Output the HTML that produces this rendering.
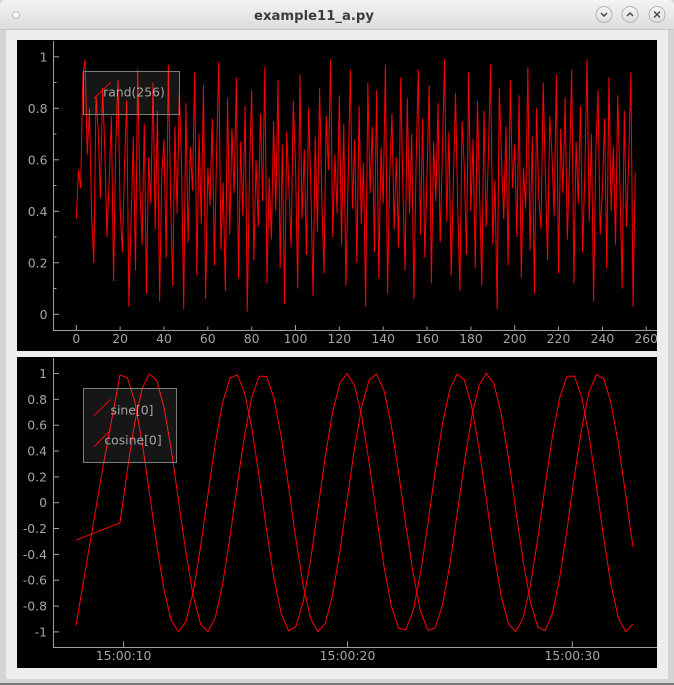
<!DOCTYPE html>
<html><head><meta charset="utf-8"><style>
html,body{margin:0;padding:0;background:#d4d4d4;width:674px;height:685px;overflow:hidden}
svg{display:block}
.t{font-family:"DejaVu Sans","Liberation Sans",sans-serif;font-size:12.4px;fill:#a4a4a4}
</style></head><body>
<svg width="674" height="685" viewBox="0 0 674 685" xmlns="http://www.w3.org/2000/svg">
<defs>
<linearGradient id="tb" x1="0" y1="0" x2="0" y2="1"><stop offset="0" stop-color="#f4f4f4"/><stop offset="1" stop-color="#dcdcdc"/></linearGradient>
<linearGradient id="bt" x1="0" y1="0" x2="0" y2="1"><stop offset="0" stop-color="#f6f6f6"/><stop offset="1" stop-color="#dedede"/></linearGradient>
</defs>
<rect x="0" y="0" width="674" height="685" fill="#d4d4d4"/>
<rect x="0" y="683" width="674" height="2" fill="#767676"/>
<path d="M0,30 V6 Q0,0 6,0 H668 Q674,0 674,6 V30 Z" fill="url(#tb)"/>
<line x1="0" y1="29.5" x2="674" y2="29.5" stroke="#c8c8c8"/>
<rect x="6" y="30" width="662" height="649" fill="#ededed"/>
<circle cx="16" cy="15" r="3.5" fill="#fafafa" stroke="#bdbdbd"/>
<text x="314" y="20" text-anchor="middle" style="font-family:'DejaVu Sans','Liberation Sans',sans-serif;font-weight:bold;font-size:13.2px;fill:#3c3c3c">example11_a.py</text>
<circle cx="604" cy="14.5" r="8" fill="url(#bt)" stroke="#b4b4b4"/>
<circle cx="630" cy="14.5" r="8" fill="url(#bt)" stroke="#b4b4b4"/>
<circle cx="657" cy="14.5" r="8" fill="url(#bt)" stroke="#b4b4b4"/>
<polyline points="601,13 604,16 607,13" fill="none" stroke="#444" stroke-width="1.4"/>
<polyline points="627,16 630,13 633,16" fill="none" stroke="#444" stroke-width="1.4"/>
<path d="M654,11.5 L660,17.5 M660,11.5 L654,17.5" stroke="#444" stroke-width="1.4"/>

<!-- Plot 1 -->
<rect x="17" y="40" width="640" height="311" fill="#000"/>
<g transform="translate(76.3,314.3) scale(2.192,-2.575)">
<polyline fill="none" stroke="#ff0000" stroke-width="1" vector-effect="non-scaling-stroke" points="0,37 1,56 2,49 3,93 4,99 5,62 6,80 7,38 8,20 9,85 10,71 11,45 12,88 13,64 14,30 15,52 16,77 17,13 18,66 19,91 20,41 21,24 22,58 23,83 24,3 25,36 26,69 27,17 28,95 29,50 30,27 31,74 32,8 33,61 34,43 35,90 36,33 37,79 38,5 39,54 40,68 41,22 42,97 43,46 44,11 45,73 46,39 47,86 48,59 49,2 50,82 51,28 52,65 53,48 54,94 55,15 56,70 57,35 58,89 59,6 60,57 61,42 62,76 63,19 64,63 65,98 66,25 67,51 68,9 69,84 70,31 71,72 72,47 73,92 74,14 75,67 76,38 77,81 78,1 79,55 80,87 81,21 82,60 83,34 84,78 85,44 86,96 87,12 88,53 89,29 90,75 91,40 92,91 93,18 94,66 95,4 96,71 97,49 98,26 99,83 100,58 101,10 102,93 103,37 104,64 105,23 106,80 107,50 108,7 109,69 110,32 111,88 112,45 113,16 114,77 115,56 116,99 117,30 118,62 119,39 120,85 121,27 122,74 123,11 124,52 125,95 126,41 127,68 128,20 129,81 130,35 131,59 132,3 133,90 134,47 135,73 136,24 137,87 138,14 139,65 140,43 141,97 142,8 143,55 144,78 145,33 146,61 147,26 148,92 149,48 150,17 151,84 152,39 153,70 154,6 155,58 156,95 157,31 158,76 159,22 160,54 161,89 162,12 163,67 164,44 165,82 166,28 167,63 168,99 169,36 170,71 171,15 172,50 173,86 174,42 175,9 176,75 177,57 178,23 179,94 180,40 181,68 182,18 183,83 184,46 185,11 186,79 187,34 188,62 189,97 190,27 191,52 192,2 193,88 194,60 195,37 196,73 197,19 198,91 199,49 200,66 201,30 202,85 203,14 204,57 205,41 206,96 207,25 208,69 209,8 210,80 211,45 212,33 213,90 214,53 215,21 216,77 217,62 218,38 219,93 220,16 221,72 222,47 223,84 224,29 225,58 226,95 227,12 228,67 229,43 230,81 231,24 232,55 233,99 234,36 235,70 236,5 237,63 238,87 239,31 240,48 241,76 242,18 243,92 244,40 245,65 246,27 247,85 248,51 249,10 250,79 251,34 252,60 253,94 254,3 255,55"/>
</g>
<!-- axes plot 1 -->
<g stroke="#a0a0a0" stroke-width="1" fill="none">
<line x1="53.5" y1="41" x2="53.5" y2="331"/>
<line x1="53" y1="330.5" x2="657" y2="330.5"/>
<line x1="53.5" y1="56.8" x2="59" y2="56.8"/>
<line x1="53.5" y1="108.3" x2="59" y2="108.3"/>
<line x1="53.5" y1="159.8" x2="59" y2="159.8"/>
<line x1="53.5" y1="211.3" x2="59" y2="211.3"/>
<line x1="53.5" y1="262.8" x2="59" y2="262.8"/>
<line x1="53.5" y1="314.3" x2="59" y2="314.3"/>
<line x1="53.5" y1="82.5" x2="56.5" y2="82.5"/>
<line x1="53.5" y1="134" x2="56.5" y2="134"/>
<line x1="53.5" y1="185.5" x2="56.5" y2="185.5"/>
<line x1="53.5" y1="237" x2="56.5" y2="237"/>
<line x1="53.5" y1="288.5" x2="56.5" y2="288.5"/>
<line x1="76.3" y1="330" x2="76.3" y2="325"/>
<line x1="120.1" y1="330" x2="120.1" y2="326.5"/>
<line x1="164" y1="330" x2="164" y2="326.5"/>
<line x1="207.8" y1="330" x2="207.8" y2="326.5"/>
<line x1="251.7" y1="330" x2="251.7" y2="326.5"/>
<line x1="295.5" y1="330" x2="295.5" y2="325"/>
<line x1="339.3" y1="330" x2="339.3" y2="326.5"/>
<line x1="383.2" y1="330" x2="383.2" y2="326.5"/>
<line x1="427" y1="330" x2="427" y2="326.5"/>
<line x1="470.9" y1="330" x2="470.9" y2="326.5"/>
<line x1="514.7" y1="330" x2="514.7" y2="325"/>
<line x1="558.5" y1="330" x2="558.5" y2="326.5"/>
<line x1="602.4" y1="330" x2="602.4" y2="326.5"/>
<line x1="646.2" y1="330" x2="646.2" y2="326.5"/>
</g>
<g class="t" text-anchor="end">
<text x="47.5" y="61.3">1</text>
<text x="47.5" y="112.8">0.8</text>
<text x="47.5" y="164.3">0.6</text>
<text x="47.5" y="215.8">0.4</text>
<text x="47.5" y="267.3">0.2</text>
<text x="47.5" y="318.8">0</text>
</g>
<g class="t" text-anchor="middle">
<text x="76.3" y="343">0</text>
<text x="120.1" y="343">20</text>
<text x="164" y="343">40</text>
<text x="207.8" y="343">60</text>
<text x="251.7" y="343">80</text>
<text x="295.5" y="343">100</text>
<text x="339.3" y="343">120</text>
<text x="383.2" y="343">140</text>
<text x="427" y="343">160</text>
<text x="470.9" y="343">180</text>
<text x="514.7" y="343">200</text>
<text x="558.5" y="343">220</text>
<text x="602.4" y="343">240</text>
<text x="646.2" y="343">260</text>
</g>
<!-- legend 1 -->
<rect x="83.5" y="71.5" width="96" height="43" fill="rgba(255,255,255,0.085)" stroke="#7c7c7c"/>
<line x1="94" y1="98.3" x2="110.7" y2="82.3" stroke="#ff0000" stroke-width="1"/>
<text class="t" x="134" y="96.5" text-anchor="middle">rand(256)</text>

<!-- Plot 2 -->
<rect x="17" y="357" width="640" height="311" fill="#000"/>
<g transform="translate(120,502.7) scale(7.329,-129.2)" fill="none" stroke="#ff0000">
<polyline stroke-width="1" vector-effect="non-scaling-stroke" points="-6.003,-0.95 -2.32,0.28 0,0.988 1,0.968 2,0.787 3,0.474 4,0.083 5,-0.322 6,-0.674 7,-0.913 8,-1 9,-0.92 10,-0.687 11,-0.339 12,0.065 13,0.458 14,0.775 15,0.963 16,0.99 17,0.852 18,0.572 19,0.197 20,-0.211 21,-0.584 22,-0.86 23,-0.992 24,-0.959 25,-0.766 26,-0.445 27,-0.05 28,0.353 29,0.698 30,0.926 31,1 32,0.907 33,0.663 34,0.308 35,-0.098 36,-0.487 37,-0.796 38,-0.971 39,-0.985 40,-0.835 41,-0.545 42,-0.165 43,0.243 44,0.61 45,0.876 46,0.996 47,0.949 48,0.744 49,0.416 50,0.017 51,-0.384 52,-0.721 53,-0.938 54,-0.998 55,-0.893 56,-0.638 57,-0.277 58,0.13 59,0.516 60,0.815 61,0.979 62,0.979 63,0.816 64,0.517 65,0.132 66,-0.275 67,-0.637 68,-0.892 69,-0.998 70,-0.938"/>
<polyline stroke-width="1" vector-effect="non-scaling-stroke" points="-6.003,-0.29 0,-0.156 1,0.251 2,0.617 3,0.88 4,0.997 5,0.947 6,0.739 7,0.408 8,0.009 9,-0.391 10,-0.727 11,-0.941 12,-0.998 13,-0.889 14,-0.631 15,-0.269 16,0.138 17,0.523 18,0.82 19,0.98 20,0.977 21,0.811 22,0.51 23,0.124 24,-0.283 25,-0.643 26,-0.895 27,-0.999 28,-0.936 29,-0.716 30,-0.378 31,0.024 32,0.421 33,0.749 34,0.951 35,0.995 36,0.873 37,0.606 38,0.237 39,-0.171 40,-0.55 41,-0.839 42,-0.986 43,-0.97 44,-0.792 45,-0.482 46,-0.091 47,0.314 48,0.668 49,0.91 50,1 51,0.923 52,0.693 53,0.347 54,-0.057 55,-0.451 56,-0.77 57,-0.961 58,-0.991 59,-0.857 60,-0.579 61,-0.205 62,0.203 63,0.578 64,0.856 65,0.991 66,0.961 67,0.771 68,0.453 69,0.059 70,-0.345"/>
</g>
<g stroke="#a0a0a0" stroke-width="1" fill="none">
<line x1="53.5" y1="358" x2="53.5" y2="648"/>
<line x1="53" y1="647.5" x2="657" y2="647.5"/>
<line x1="53.5" y1="373.5" x2="59" y2="373.5"/>
<line x1="53.5" y1="399.3" x2="59" y2="399.3"/>
<line x1="53.5" y1="425.2" x2="59" y2="425.2"/>
<line x1="53.5" y1="451" x2="59" y2="451"/>
<line x1="53.5" y1="476.9" x2="59" y2="476.9"/>
<line x1="53.5" y1="502.7" x2="59" y2="502.7"/>
<line x1="53.5" y1="528.5" x2="59" y2="528.5"/>
<line x1="53.5" y1="554.4" x2="59" y2="554.4"/>
<line x1="53.5" y1="580.2" x2="59" y2="580.2"/>
<line x1="53.5" y1="606.1" x2="59" y2="606.1"/>
<line x1="53.5" y1="631.9" x2="59" y2="631.9"/>
<line x1="123.6" y1="647" x2="123.6" y2="641.5"/>
<line x1="347.5" y1="647" x2="347.5" y2="641.5"/>
<line x1="572.3" y1="647" x2="572.3" y2="641.5"/>
</g>
<g class="t" text-anchor="end">
<text x="47" y="378">1</text>
<text x="47" y="403.8">0.8</text>
<text x="47" y="429.7">0.6</text>
<text x="47" y="455.5">0.4</text>
<text x="47" y="481.4">0.2</text>
<text x="47" y="507.2">0</text>
<text x="47" y="533">-0.2</text>
<text x="47" y="558.9">-0.4</text>
<text x="47" y="584.7">-0.6</text>
<text x="47" y="610.6">-0.8</text>
<text x="47" y="636.4">-1</text>
</g>
<g class="t" text-anchor="middle">
<text x="123.6" y="660">15:00:10</text>
<text x="347.5" y="660">15:00:20</text>
<text x="572.3" y="660">15:00:30</text>
</g>
<!-- legend 2 -->
<rect x="83.5" y="388.5" width="93" height="74" fill="rgba(255,255,255,0.085)" stroke="#7c7c7c"/>
<line x1="94" y1="415.7" x2="110.7" y2="399.3" stroke="#ff0000" stroke-width="1"/>
<text class="t" x="132" y="414.5" text-anchor="middle">sine[0]</text>
<line x1="94" y1="446.7" x2="110.7" y2="430" stroke="#ff0000" stroke-width="1"/>
<text class="t" x="133" y="444.5" text-anchor="middle">cosine[0]</text>
</svg>
</body></html>
